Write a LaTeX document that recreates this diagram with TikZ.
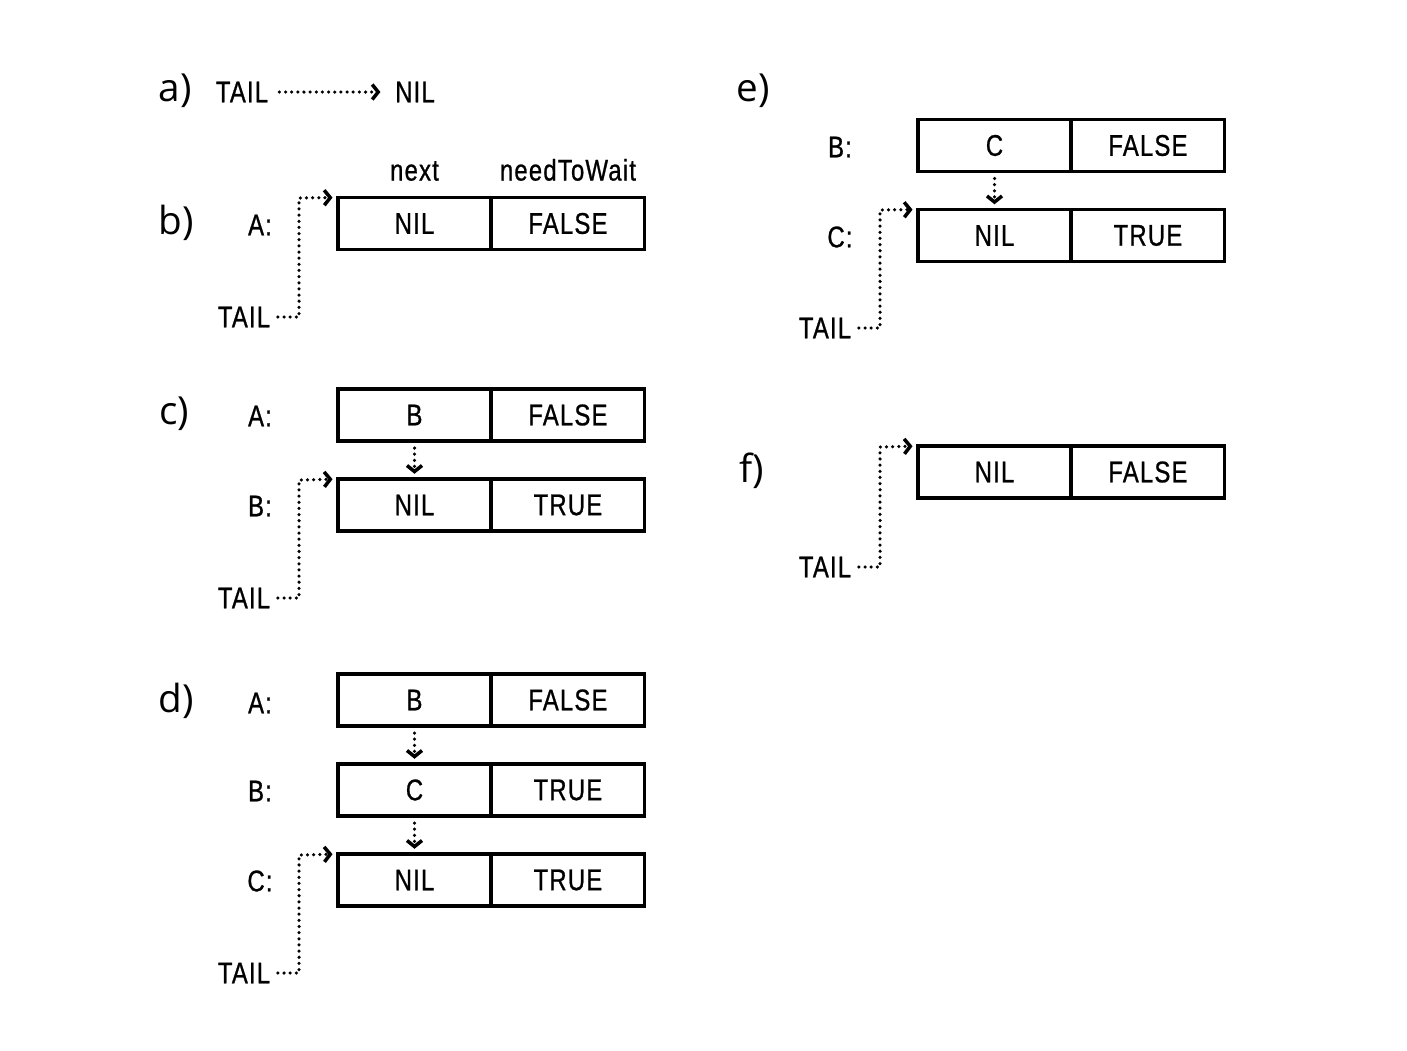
\documentclass[tikz,border=0pt]{standalone}
\usepackage{fontspec}
\newfontfamily\cellfont[FakeStretch=0.8,LetterSpace=4,FakeBold=0.8]{Liberation Sans}
\newfontfamily\panelfont{Open Sans}
\usetikzlibrary{positioning,arrows.meta}

\begin{document}
\begin{tikzpicture}
                \tikzset{cell/.style={draw, line width=0.55pt, minimum width=1.515cm,
                minimum height=0.5cm, inner sep=0pt, font=\cellfont\fontsize{8.5}{9}\selectfont},
                 frame/.style={line width=0.9pt},
                 txt/.style={inner sep=0pt, font=\cellfont\fontsize{8.5}{9}\selectfont},
                 panel/.style={inner sep=0pt, font=\panelfont\fontsize{11}{12}\selectfont},
                 ptr/.style={line width=1pt, dash pattern=on 0pt off 1.75pt, line cap=round,
                 -{Straight Barb[length=0.6mm, width=1.5mm, line width=1pt]}, shorten >=1.5pt}}

                \useasboundingbox (0,0) rectangle (14.07,-10.5);

                % a)
                \node[panel] (pa) at (1.75,-0.91) {a)};
                \node[txt] (taila) at (2.42,-0.92) {TAIL};
                \node[txt] (nila) at (4.15,-0.92) {NIL};
                \draw[ptr, shorten <=3pt, shorten >=4pt] (taila.east) -- (nila.west);

                % b)
                \node[panel] (pb) at (1.76,-2.23) {b)};
                \node[txt] (lbA) at (2.6,-2.25) {A:};
                \node[cell] (bA1) at (4.145,-2.235) {NIL};
                \node[cell, right=0pt of bA1] (bA2) {FALSE};
                \draw[frame] (bA1.north west) rectangle (bA2.south east);
                \node[txt, above=0.16cm of bA1] (hnext) {next};
                \node[txt, above=0.16cm of bA2] (hwait) {needToWait};
                \node[txt] (tailb) at (2.44,-3.17) {TAIL};
                \coordinate (kb) at (2.99,-1.98);
                \draw[ptr, shorten <=2pt] (tailb.east) -| (kb) -- (bA1.north west);

                % c)
                \node[panel] (pc) at (1.74,-4.14) {c)};
                \node[txt] (lcA) at (2.6,-4.16) {A:};
                \node[cell] (cA1) at (4.145,-4.15) {B};
                \node[cell, right=0pt of cA1] (cA2) {FALSE};
                \draw[frame] (cA1.north west) rectangle (cA2.south east);
                \node[txt] (lcB) at (2.6,-5.06) {B:};
                \node[cell] (cB1) at (4.145,-5.05) {NIL};
                \node[cell, right=0pt of cB1] (cB2) {TRUE};
                \draw[frame] (cB1.north west) rectangle (cB2.south east);
                \draw[ptr, shorten <=2pt] (cA1.south) -- (cB1.north);
                \node[txt] (tailc) at (2.44,-5.98) {TAIL};
                \coordinate (kc) at (2.99,-4.80);
                \draw[ptr, shorten <=2pt] (tailc.east) -| (kc) -- (cB1.north west);

                % d)
                \node[panel] (pd) at (1.76,-7.01) {d)};
                \node[txt] (ldA) at (2.6,-7.03) {A:};
                \node[cell] (dA1) at (4.145,-7.0) {B};
                \node[cell, right=0pt of dA1] (dA2) {FALSE};
                \draw[frame] (dA1.north west) rectangle (dA2.south east);
                \node[txt] (ldB) at (2.6,-7.91) {B:};
                \node[cell] (dB1) at (4.145,-7.9) {C};
                \node[cell, right=0pt of dB1] (dB2) {TRUE};
                \draw[frame] (dB1.north west) rectangle (dB2.south east);
                \node[txt] (ldC) at (2.6,-8.81) {C:};
                \node[cell] (dC1) at (4.145,-8.8) {NIL};
                \node[cell, right=0pt of dC1] (dC2) {TRUE};
                \draw[frame] (dC1.north west) rectangle (dC2.south east);
                \draw[ptr, shorten <=2pt] (dA1.south) -- (dB1.north);
                \draw[ptr, shorten <=2pt] (dB1.south) -- (dC1.north);
                \node[txt] (taild) at (2.44,-9.73) {TAIL};
                \coordinate (kd) at (2.99,-8.55);
                \draw[ptr, shorten <=2pt] (taild.east) -| (kd) -- (dC1.north west);

                % e)
                \node[panel] (pe) at (7.53,-0.91) {e)};
                \node[txt] (leB) at (8.4,-1.47) {B:};
                \node[cell] (eB1) at (9.945,-1.455) {C};
                \node[cell, right=0pt of eB1] (eB2) {FALSE};
                \draw[frame] (eB1.north west) rectangle (eB2.south east);
                \node[txt] (leC) at (8.4,-2.37) {C:};
                \node[cell] (eC1) at (9.945,-2.355) {NIL};
                \node[cell, right=0pt of eC1] (eC2) {TRUE};
                \draw[frame] (eC1.north west) rectangle (eC2.south east);
                \draw[ptr, shorten <=2pt] (eB1.south) -- (eC1.north);
                \node[txt] (taile) at (8.25,-3.28) {TAIL};
                \coordinate (ke) at (8.80,-2.10);
                \draw[ptr, shorten <=2pt] (taile.east) -| (ke) -- (eC1.north west);

                % f)
                \node[panel] (pf) at (7.52,-4.71) {f)};
                \node[cell] (fA1) at (9.945,-4.72) {NIL};
                \node[cell, right=0pt of fA1] (fA2) {FALSE};
                \draw[frame] (fA1.north west) rectangle (fA2.south east);
                \node[txt] (tailf) at (8.25,-5.67) {TAIL};
                \coordinate (kf) at (8.80,-4.47);
                \draw[ptr, shorten <=2pt] (tailf.east) -| (kf) -- (fA1.north west);
\end{tikzpicture}
\end{document}
